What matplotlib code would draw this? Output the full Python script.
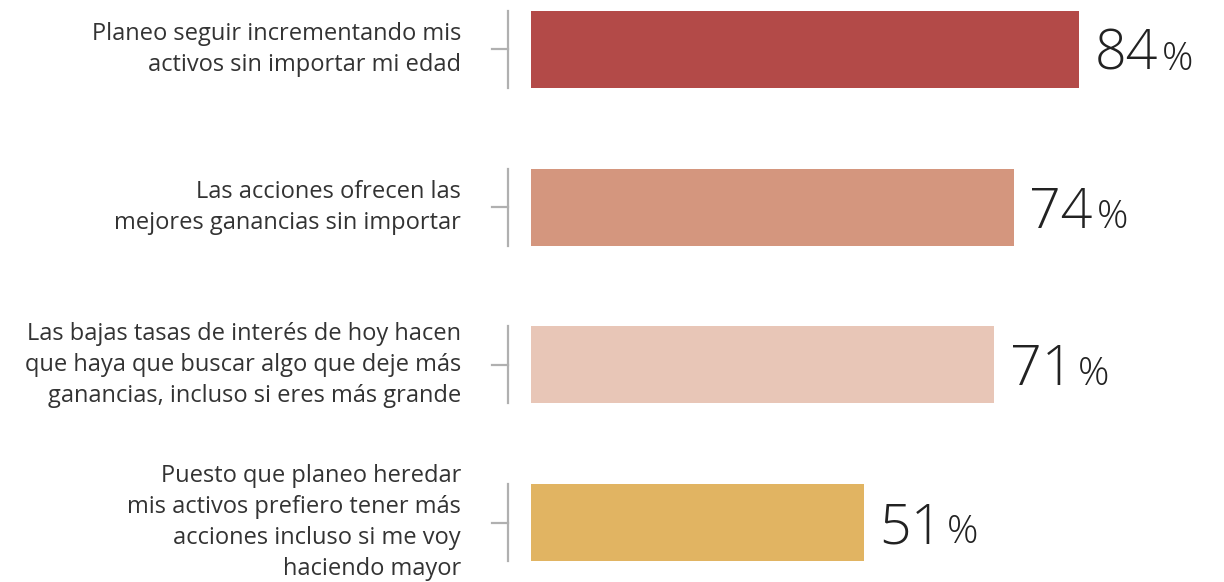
import matplotlib
matplotlib.use('Agg')
import matplotlib.pyplot as plt
from matplotlib.transforms import blended_transform_factory

labels = [
    'Planeo seguir incrementando mis\nactivos sin importar mi edad',
    'Las acciones ofrecen las\nmejores ganancias sin importar',
    'Las bajas tasas de interés de hoy hacen\nque haya que buscar algo que deje más\nganancias, incluso si eres más grande',
    'Puesto que planeo heredar\nmis activos prefiero tener más\nacciones incluso si me voy\nhaciendo mayor',
]
values = [84, 74, 71, 51]
colors = ['#B34A48', '#D4967E', '#E8C6B7', '#E1B462']

plt.rcParams['font.family'] = ['Open Sans', 'DejaVu Sans']

fig = plt.figure(figsize=(12.24, 5.82), dpi=100)
ax = fig.add_axes([531 / 1224, 0, 693 / 1224, 1])

ypos = list(range(len(values)))
ax.barh(ypos, values, height=0.488, color=colors, left=0)
ax.set_xlim(0, 693 / 6.528)
ax.set_ylim(3 + 59.5 / 157.7, -49.5 / 157.7)
ax.axis('off')

trans = blended_transform_factory(ax.transAxes, ax.transData)
for y, lab, v in zip(ypos, labels, values):
    # gray bracket left of each bar
    ax.plot([-0.0332, -0.0332], [y - 0.244, y + 0.244], color='#b0b0b0', lw=1.6,
            transform=trans, clip_on=False)
    ax.plot([-0.0563, -0.0332], [y, y], color='#b0b0b0', lw=1.6,
            transform=trans, clip_on=False)
    ax.text(-0.101, y, lab, transform=trans, ha='right', va='center',
            fontsize=17, color='#333333', linespacing=1.38)
    num = ax.annotate(str(v), xy=(v, y + 0.13), xytext=(11, 0),
                      textcoords='offset points', ha='left', va='baseline',
                      fontsize=40, fontweight='light', color='#222222')
    ax.annotate('%', xy=(1, y + 0.13), xycoords=(num, 'data'),
                xytext=(3, 0), textcoords='offset points',
                ha='left', va='baseline', fontsize=28, fontweight='light',
                color='#222222')

fig.savefig('out.png', dpi=100)
